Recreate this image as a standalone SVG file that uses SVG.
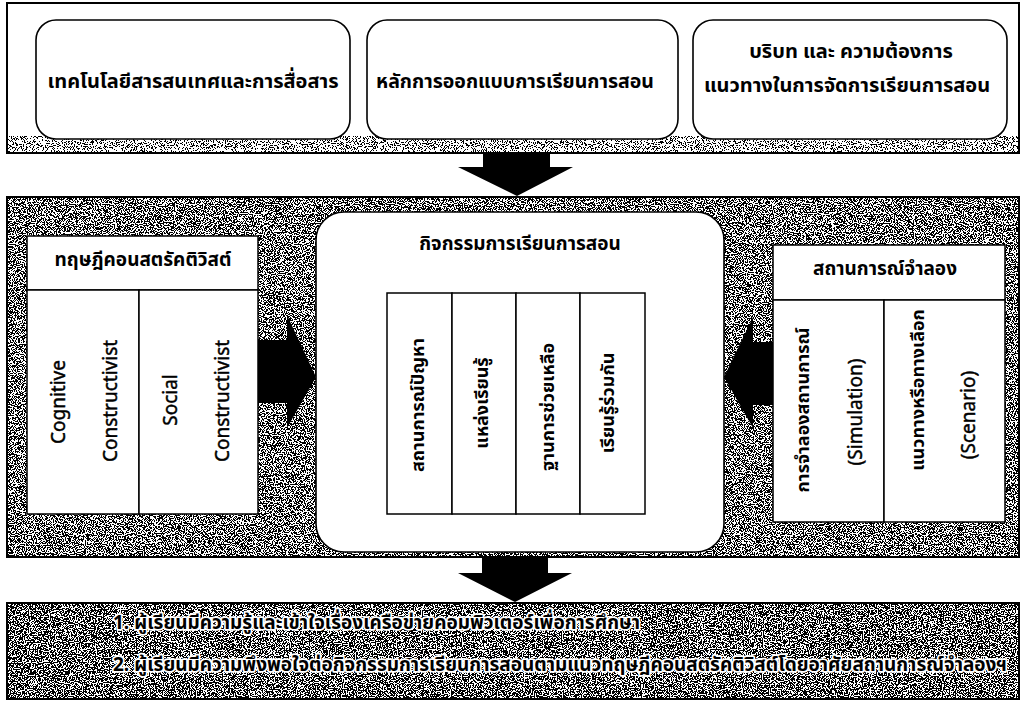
<svg xmlns="http://www.w3.org/2000/svg" width="1022" height="701" viewBox="0 0 1022 701">
<style>
.band{stroke:#000;stroke-width:2;fill:#fff}
.box{fill:#fff;stroke:#000;stroke-width:1.6}
.cell{fill:#fff;stroke:#000;stroke-width:1.5}
.th{font-family:"Noto Sans Thai","Noto Sans Thai UI","Loma","Garuda","Tlwg Typo","Noto Sans","DejaVu Sans",sans-serif;font-weight:bold;fill:#000}
.en{font-family:"Noto Sans","Open Sans",sans-serif;fill:#000;font-size:19px;stroke:#000;stroke-width:0.45}
.mid{text-anchor:middle}
.halo{stroke:#fff;stroke-width:3.5;paint-order:stroke;stroke-linejoin:round}
.arrow{fill:#000}
</style>
<defs>
<filter id="sparse" filterUnits="userSpaceOnUse" x="0" y="0" width="1022" height="701">
<feTurbulence type="fractalNoise" baseFrequency="0.9" numOctaves="2" seed="4" result="n"/>
<feColorMatrix in="n" type="matrix" values="0 0 0 0 0 0 0 0 0 0 0 0 0 0 0 1 0 0 0 0" result="a"/>
<feComponentTransfer in="a" result="t"><feFuncA type="discrete" tableValues="0 0 0 0 0 0 0 0 0 0 0 0 0 0 0 0 0 0 0 0 0 0 0 0 0 0 0 0 0 0 0 0 0 0 0 0 0 0 0 1"/></feComponentTransfer>
<feComposite in="t" in2="SourceGraphic" operator="in"/>
</filter>
<filter id="strip" filterUnits="userSpaceOnUse" x="0" y="0" width="1022" height="701">
<feTurbulence type="fractalNoise" baseFrequency="0.9" numOctaves="2" seed="7" result="n"/>
<feColorMatrix in="n" type="matrix" values="0 0 0 0 0 0 0 0 0 0 0 0 0 0 0 1 0 0 0 0" result="a"/>
<feComponentTransfer in="a" result="t"><feFuncA type="discrete" tableValues="0 0 0 0 0 0 0 0 0 1 1 1 1 1 1 1"/></feComponentTransfer>
<feComposite in="t" in2="SourceGraphic" operator="in"/>
</filter>
<filter id="medium" filterUnits="userSpaceOnUse" x="0" y="0" width="1022" height="701">
<feTurbulence type="fractalNoise" baseFrequency="0.9" numOctaves="2" seed="7" result="n"/>
<feColorMatrix in="n" type="matrix" values="0 0 0 0 0 0 0 0 0 0 0 0 0 0 0 1 0 0 0 0" result="a"/>
<feComponentTransfer in="a" result="t"><feFuncA type="discrete" tableValues="0 0 0 0 0 0 0 0 1 1 1 1 1 1 1 1"/></feComponentTransfer>
<feComposite in="t" in2="SourceGraphic" operator="in"/>
</filter>
<filter id="dense" filterUnits="userSpaceOnUse" x="0" y="0" width="1022" height="701">
<feTurbulence type="fractalNoise" baseFrequency="0.85" numOctaves="2" seed="11" result="n"/>
<feColorMatrix in="n" type="matrix" values="0 0 0 0 0 0 0 0 0 0 0 0 0 0 0 1 0 0 0 0" result="a"/>
<feComponentTransfer in="a" result="t"><feFuncA type="discrete" tableValues="0 0 0 0 0 0 0 0 0 0 0 0 0 0 0 0 0 0 0 0 0 0 0 1 1 1 1 1 1 1 1 1 1 1 1 1 1 1 1 1 1 1 1 1 1 1 1 1"/></feComponentTransfer>
<feComposite in="t" in2="SourceGraphic" operator="in"/>
</filter>
</defs>

<g id="band-top">
<rect class="band" x="7" y="3" width="1012" height="150"/>
<rect x="8" y="4" width="1010" height="148" fill="#000" filter="url(#sparse)"/>
<rect x="8" y="136" width="1010" height="16" fill="#000" filter="url(#strip)"/>
</g>
<g id="band-middle">
<rect class="band" x="7" y="197" width="1012" height="360"/>
<rect x="8" y="198" width="1010" height="358" fill="#000" filter="url(#medium)"/>
</g>
<g id="band-bottom">
<rect class="band" x="7" y="603" width="1012" height="96"/>
<rect x="8" y="604" width="1010" height="94" fill="#000" filter="url(#dense)"/>
</g>

<g id="node-ict">
<rect class="box" x="36" y="20" width="314" height="119" rx="20"/>
<text class="th mid" x="193" y="88" font-size="20">เทคโนโลยีสารสนเทศและการสื่อสาร</text>
</g>
<g id="node-design">
<rect class="box" x="367" y="20" width="311" height="119" rx="20"/>
<text class="th mid" x="515" y="88" font-size="19.5">หลักการออกแบบการเรียนการสอน</text>
</g>
<g id="node-context">
<rect class="box" x="693" y="20" width="314" height="119" rx="20"/>
<text class="th mid" x="851" y="58" font-size="20">บริบท และ ความต้องการ</text>
<text class="th mid" x="847" y="92" font-size="20">แนวทางในการจัดการเรียนการสอน</text>
</g>

<g id="node-constructivism">
<rect class="cell" x="27" y="236" width="231" height="54"/>
<rect class="cell" x="27" y="290" width="112" height="224"/>
<rect class="cell" x="139" y="290" width="119" height="224"/>
<text class="th mid" x="143" y="266" font-size="19">ทฤษฎีคอนสตรัคติวิสต์</text>
<text class="en mid" transform="translate(58,402) rotate(-90)" dy="0.35em">Cognitive</text>
<text class="en mid" transform="translate(110,401) rotate(-90)" dy="0.35em">Constructivist</text>
<text class="en mid" transform="translate(170,400) rotate(-90)" dy="0.35em">Social</text>
<text class="en mid" transform="translate(222,401) rotate(-90)" dy="0.35em">Constructivist</text>
</g>

<g id="node-activities">
<rect class="box" x="316" y="212" width="408" height="340" rx="28"/>
<text class="th mid" x="520" y="250" font-size="19">กิจกรรมการเรียนการสอน</text>
<rect class="cell" x="387" y="293" width="65" height="221"/>
<rect class="cell" x="452" y="293" width="64" height="221"/>
<rect class="cell" x="516" y="293" width="64" height="221"/>
<rect class="cell" x="580" y="293" width="65" height="221"/>
<text class="th mid" font-size="18" transform="translate(418,405) rotate(-90)" dy="0.35em">สถานการณ์ปัญหา</text>
<text class="th mid" font-size="18" transform="translate(482,403) rotate(-90)" dy="0.35em">แหล่งเรียนรู้</text>
<text class="th mid" font-size="18" transform="translate(548,407) rotate(-90)" dy="0.35em">ฐานการช่วยเหลือ</text>
<text class="th mid" font-size="18" transform="translate(608,403) rotate(-90)" dy="0.35em">เรียนรู้ร่วมกัน</text>
</g>

<g id="node-simulation">
<rect class="cell" x="773" y="245" width="232" height="55"/>
<rect class="cell" x="773" y="300" width="111" height="222"/>
<rect class="cell" x="884" y="300" width="121" height="222"/>
<text class="th mid" x="885" y="275" font-size="19">สถานการณ์จำลอง</text>
<text class="th mid" font-size="18" transform="translate(803,410) rotate(-90)" dy="0.35em">การจำลองสถานการณ์</text>
<text class="en mid" transform="translate(855,412) rotate(-90)" dy="0.35em">(Simulation)</text>
<text class="th mid" font-size="18" transform="translate(918,390) rotate(-90)" dy="0.35em">แนวทางหรือทางเลือก</text>
<text class="en mid" transform="translate(968,415) rotate(-90)" dy="0.35em">(Scenario)</text>
</g>

<g id="node-outcomes">
<text class="th halo" x="113" y="629" font-size="19">1. ผู้เรียนมีความรู้และเข้าใจเรื่องเครือข่ายคอมพิวเตอร์เพื่อการศึกษา</text>
<text class="th halo" x="113" y="671" font-size="19">2. ผู้เรียนมีความพึงพอใจต่อกิจกรรมการเรียนการสอนตามแนวทฤษฎีคอนสตรัคติวิสต์โดยอาศัยสถานการณ์จำลองฯ</text>
</g>

<g id="connectors">
<polygon class="arrow" points="483,153 550,153 550,167 573,167 517,196 458,167 483,167"/>
<polygon class="arrow" points="482,557 548,557 548,573 572,573 515,602 458,573 482,573"/>
<polygon class="arrow" points="258,340 287,340 287,315 316,377 287,428 287,403 258,403"/>
<polygon class="arrow" points="773,342 753,342 753,317 724,377 753,428 753,405 773,405"/>
</g>
</svg>
